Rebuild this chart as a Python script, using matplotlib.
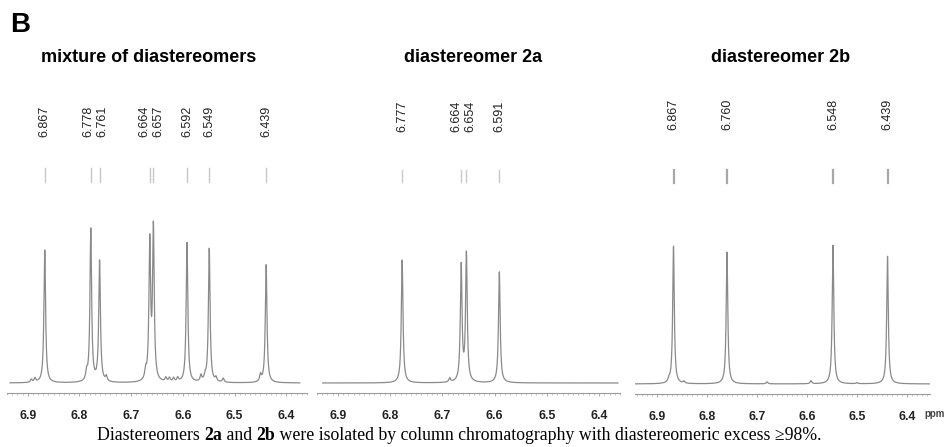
import numpy as np
import matplotlib
matplotlib.use("Agg")
import matplotlib.pyplot as plt
from matplotlib.transforms import blended_transform_factory

# ---------------- data ----------------
panel_titles = ["mixture of diastereomers", "diastereomer 2a", "diastereomer 2b"]

mix_shifts = [6.867, 6.778, 6.761, 6.664, 6.657, 6.592, 6.549, 6.439]
mix_heights = [133, 153, 121, 138, 152, 140, 134, 118]
mix_minor_shifts = [6.893, 6.886, 6.786, 6.748, 6.672, 6.633, 6.626, 6.618, 6.610,
                    6.565, 6.557, 6.536, 6.522, 6.450]
mix_minor_heights = [3, 4, 8, 5, 9, 4, 4, 4, 4, 6, 5, 4, 4, 7]

a_shifts = [6.777, 6.664, 6.654, 6.591]
a_heights = [123, 116, 128, 111]
a_minor_shifts = [6.686]
a_minor_heights = [4]

b_shifts = [6.867, 6.760, 6.548, 6.439]
b_heights = [137, 131, 138, 127]
b_minor_shifts = [6.876, 6.846, 6.680, 6.592, 6.500]
b_minor_heights = [3, 2, 2, 3, 1]

x_ticks = [6.9, 6.8, 6.7, 6.6, 6.5, 6.4]
x_tick_labels = ["6.9", "6.8", "6.7", "6.6", "6.5", "6.4"]

caption_parts = [("Diastereomers ", "normal"), ("2a", "bold"), (" and ", "normal"),
                 ("2b", "bold"),
                 (" were isolated by column chromatography with diastereomeric excess \u226598%.", "normal")]

# ---------------- layout ----------------
W, H = 946, 447
fig = plt.figure(figsize=(W / 100, H / 100), dpi=100)
plt.rcParams["font.family"] = ["Liberation Sans", "DejaVu Sans"]

def px_box(x0, x1, ytop, ybot):
    return [x0 / W, 1 - ybot / H, (x1 - x0) / W, (ybot - ytop) / H]

panels = [
    dict(shifts=mix_shifts, heights=mix_heights, mshift=mix_minor_shifts, mheight=mix_minor_heights,
         box=px_box(7, 307, 190, 393), xlim=(6.934, 6.374), title_x=149,
         lab_bot=137, mk=(168, 182), mk_color="#c8c8c8", mk_lw=1.0),
    dict(shifts=a_shifts, heights=a_heights, mshift=a_minor_shifts, mheight=a_minor_heights,
         box=px_box(317, 620, 190, 393), xlim=(6.929, 6.364), title_x=473,
         lab_bot=132, mk=(170, 182), mk_color="#c8c8c8", mk_lw=1.0),
    dict(shifts=b_shifts, heights=b_heights, mshift=b_minor_shifts, mheight=b_minor_heights,
         box=px_box(635, 930, 190, 394), xlim=(6.944, 6.354), title_x=781,
         lab_bot=130, mk=(170, 183), mk_color="#a8a8a8", mk_lw=1.6),
]

gamma = 0.0019

for i, p in enumerate(panels):
    ax = fig.add_axes(p["box"])
    x = np.linspace(p["xlim"][0], p["xlim"][1], 4000)
    y = np.zeros_like(x)
    for s, h in zip(p["shifts"] + p["mshift"], p["heights"] + p["mheight"]):
        y += h / (1 + ((x - s) / gamma) ** 2)
    ax.plot(x, y, color="#8a8a8a", lw=0.9)
    ax.set_xlim(*p["xlim"])
    ax.set_ylim(-10, 193)
    for sp in ["top", "left", "right"]:
        ax.spines[sp].set_visible(False)
    ax.spines["bottom"].set_color("#9a9a9a")
    ax.spines["bottom"].set_linewidth(0.8)
    ax.set_yticks([])
    ax.set_xticks(x_ticks)
    ax.set_xticklabels(x_tick_labels, fontsize=8.8, fontweight="bold", color="#222222")
    ax.set_xticks(np.arange(6.36, 6.95, 0.01), minor=True)
    ax.tick_params(axis="x", which="major", length=2.5, width=0.6, color="#9a9a9a", pad=10)
    ax.tick_params(axis="x", which="minor", length=1.5, width=0.5, color="#b0b0b0")

    # title
    fig.text(p["title_x"] / W, 1 - 57 / H, panel_titles[i], ha="center", va="center",
             fontsize=13, fontweight="bold")

    # peak labels (spread to avoid overlap)
    fig.canvas.draw()
    tr = ax.transData
    pxs = [tr.transform((s, 0))[0] for s in p["shifts"]]
    order = np.argsort(pxs)
    pos = [pxs[k] for k in order]
    min_sp = 14.0
    for _ in range(50):
        changed = False
        groups = [[0]]
        for j in range(1, len(pos)):
            if pos[j] - pos[groups[-1][-1]] < min_sp - 1e-6:
                groups[-1].append(j)
            else:
                groups.append([j])
        new = list(pos)
        for g in groups:
            if len(g) > 1:
                c = np.mean([pxs[order[j]] for j in g])
                n = len(g)
                for kk, j in enumerate(g):
                    new[j] = c + (kk - (n - 1) / 2) * min_sp
                changed = True
        if not changed:
            break
        if np.allclose(new, pos):
            break
        pos = new
    lab_x = [0] * len(pxs)
    for kk, j in enumerate(order):
        lab_x[j] = pos[kk]
    for s, lx in zip(p["shifts"], lab_x):
        fig.text(lx / W, 1 - p["lab_bot"] / H, f"{s:.3f}", rotation=90, ha="center", va="bottom",
                 fontsize=9, color="#222222")
    bt = blended_transform_factory(ax.transData, fig.transFigure)
    for s in p["shifts"]:
        ax.plot([s, s], [1 - p["mk"][0] / H, 1 - p["mk"][1] / H], transform=bt,
                color=p["mk_color"], lw=p["mk_lw"], clip_on=False)

# "ppm" label
fig.text(924 / W, 1 - 414 / H, "ppm", ha="left", va="center", fontsize=7, fontweight="bold",
         color="#444444")

# panel letter
fig.text(10 / W, 1 - 25 / H, "B", ha="left", va="center", fontsize=20, fontweight="bold")

# caption with mixed weights
fig.canvas.draw()
renderer = fig.canvas.get_renderer()
texts = []
for t, w in caption_parts:
    tx = fig.text(0, 1 - 435 / H, t, ha="left", va="center", fontsize=12.8, fontweight=w,
                  family=["Liberation Serif", "DejaVu Serif"])
    texts.append(tx)
widths = [tx.get_window_extent(renderer).width for tx in texts]
total = sum(widths)
xcur = 459 - total / 2
for tx, wdt in zip(texts, widths):
    tx.set_x(xcur / W)
    xcur += wdt

fig.savefig("out.png", dpi=100)
